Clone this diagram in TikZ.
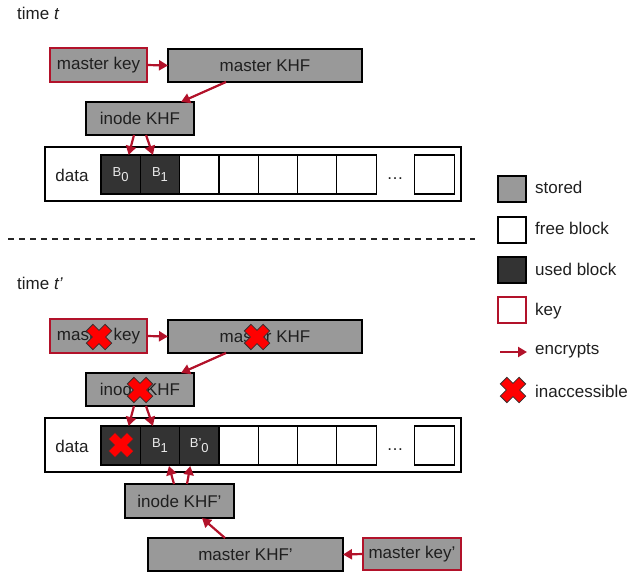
\documentclass[tikz,border=0pt]{standalone}
\usepackage{fontspec}
\setmainfont{Liberation Sans}
\usetikzlibrary{arrows.meta}
\definecolor{kred}{RGB}{178,18,42}
\definecolor{sgray}{RGB}{153,153,153}
\definecolor{ublk}{RGB}{51,51,51}
\definecolor{xred}{RGB}{255,0,0}
\tikzset{
  base/.style={draw=black, line width=1.2pt, inner sep=0pt, outer sep=0pt, font=\fontsize{17}{20}\selectfont, text=black!88},
  stored/.style={base, fill=sgray},
  keybox/.style={stored, draw=kred, line width=2.5pt},
  usedblk/.style={base, fill=ublk, minimum width=39.3pt, minimum height=39pt, text=white!92!black, font=\fontsize{13}{15}\selectfont},
  freeblk/.style={base, fill=white, minimum width=39.3pt, minimum height=39pt},
  databox/.style={base, fill=white, line width=1.5pt, minimum width=416pt, minimum height=54pt},
  enc/.style={draw=kred, line width=2.2pt, -{Triangle[length=9pt,width=10pt]}},
  lbl/.style={font=\fontsize{17}{20}\selectfont, text=black!88, inner sep=0pt, anchor=west},
  xmark/.pic={\filldraw[fill=xred, draw=black!80, line width=0.8pt, rotate=45]
     (4.7,4.7) -- (13.3,4.7) -- (13.3,-4.7) -- (4.7,-4.7) -- (4.7,-13.3) -- (-4.7,-13.3) -- (-4.7,-4.7)
     -- (-13.3,-4.7) -- (-13.3,4.7) -- (-4.7,4.7) -- (-4.7,13.3) -- (4.7,13.3) -- cycle;}
}
\begin{document}
\begin{tikzpicture}[x=1pt, y=-1pt]
\useasboundingbox (0,0) rectangle (642,573);

% ---------- time t ----------
\node[lbl] (tt) at (17,13) {time \textit{t}};
\node[keybox, minimum width=97pt, minimum height=34pt] (mk) at (98.5,65) {master key};
\node[stored, minimum width=194pt, minimum height=33pt] (mkhf) at (265,65.5) {master KHF};
\node[stored, minimum width=108pt, minimum height=33pt] (ikhf) at (140,118.5) {inode KHF};
\node[databox] (d1) at (253,174) {};
\node[base, draw=none, fill=none] (dl1) at (72,175) {data};
\node[usedblk] (a0) at (120.65,174.5) {B\raisebox{-5pt}{0}};
\node[usedblk] (a1) at (159.95,174.5) {B\raisebox{-5pt}{1}};
\node[freeblk] (a2) at (199.25,174.5) {};
\node[freeblk] (a3) at (238.55,174.5) {};
\node[freeblk] (a4) at (277.85,174.5) {};
\node[freeblk] (a5) at (317.15,174.5) {};
\node[freeblk] (a6) at (356.45,174.5) {};
\node[base, draw=none, fill=none] (dots1) at (395,178.5) {…};
\node[freeblk, minimum width=40pt] (a7) at (434.3,174.5) {};

\draw[enc] (mk.east) -- (mkhf.west);
\draw[enc] ([xshift=-39pt]mkhf.south) -- ([xshift=41pt]ikhf.north);
\draw[enc] ([xshift=-6pt]ikhf.south) -- ([xshift=8pt]a0.north);
\draw[enc] ([xshift=6pt]ikhf.south) -- ([xshift=-7pt]a1.north);

% ---------- separator ----------
\draw[dash pattern=on 6pt off 5pt, line width=1.2pt, black!85] (8,239) -- (475,239);

% ---------- time t' ----------
\node[lbl] (tt2) at (17,283) {time \textit{t’}};
\node[keybox, minimum width=97pt, minimum height=34pt] (mk2) at (98.5,336) {master key};
\node[stored, minimum width=194pt, minimum height=33pt] (mkhf2) at (265,336.5) {master KHF};
\node[stored, minimum width=108pt, minimum height=33pt] (ikhf2) at (140,389.5) {inode KHF};
\node[databox] (d2) at (253,445) {};
\node[base, draw=none, fill=none] (dl2) at (72,446) {data};
\node[usedblk] (c0) at (120.65,445.5) {};
\node[usedblk] (c1) at (159.95,445.5) {B\raisebox{-5pt}{1}};
\node[usedblk] (c2) at (199.25,445.5) {B’\raisebox{-5pt}{0}};
\node[freeblk] (c3) at (238.55,445.5) {};
\node[freeblk] (c4) at (277.85,445.5) {};
\node[freeblk] (c5) at (317.15,445.5) {};
\node[freeblk] (c6) at (356.45,445.5) {};
\node[base, draw=none, fill=none] (dots2) at (395,449.5) {…};
\node[freeblk, minimum width=40pt] (c7) at (434.3,445.5) {};

\draw[enc] (mk2.east) -- (mkhf2.west);
\draw[enc] ([xshift=-39pt]mkhf2.south) -- ([xshift=41pt]ikhf2.north);
\draw[enc] ([xshift=-6pt]ikhf2.south) -- ([xshift=8pt]c0.north);
\draw[enc] ([xshift=6pt]ikhf2.south) -- ([xshift=-7pt]c1.north);

\node[stored, minimum width=109pt, minimum height=34pt] (ikhf3) at (179.5,501) {inode KHF’};
\node[stored, minimum width=195pt, minimum height=33pt] (mkhf3) at (245.5,554.5) {master KHF’};
\node[keybox, minimum width=98pt, minimum height=32pt] (mk3) at (412,554) {master key’};

\draw[enc] (mk3.west) -- (mkhf3.east);
\draw[enc] ([xshift=-20.5pt]mkhf3.north) -- ([xshift=22.5pt]ikhf3.south);
\draw[enc] ([xshift=-5.5pt]ikhf3.north) -- ([xshift=9pt,yshift=-1pt]c1.south);
\draw[enc] ([xshift=7.5pt]ikhf3.north) -- ([xshift=-9pt,yshift=-1pt]c2.south);

\pic at (99,337) {xmark};
\pic at (257,337) {xmark};
\pic at (140,390) {xmark};
\pic at (121,445) {xmark};

% ---------- legend ----------
\node[stored, minimum width=28pt, minimum height=26pt] (ls) at (512,189) {};
\node[lbl] (lst) at (535,187) {stored};
\node[base, fill=white, minimum width=28pt, minimum height=26pt] (lf) at (512,230) {};
\node[lbl] (lft) at (535,228) {free block};
\node[base, fill=ublk, minimum width=28pt, minimum height=26pt] (lu) at (512,270) {};
\node[lbl] (lut) at (535,269) {used block};
\node[base, fill=white, draw=kred, line width=2.5pt, minimum width=28pt, minimum height=26pt] (lk) at (512,310) {};
\node[lbl] (lkt) at (535,311) {key};
\coordinate (ea) at (500,352);
\coordinate (eb) at (527,352);
\draw[enc] (ea) -- (eb);
\node[lbl] (let) at (535,351) {encrypts};
\pic at (513,390) {xmark};
\node[lbl] (lxt) at (535,391) {inaccessible};
\end{tikzpicture}
\end{document}
